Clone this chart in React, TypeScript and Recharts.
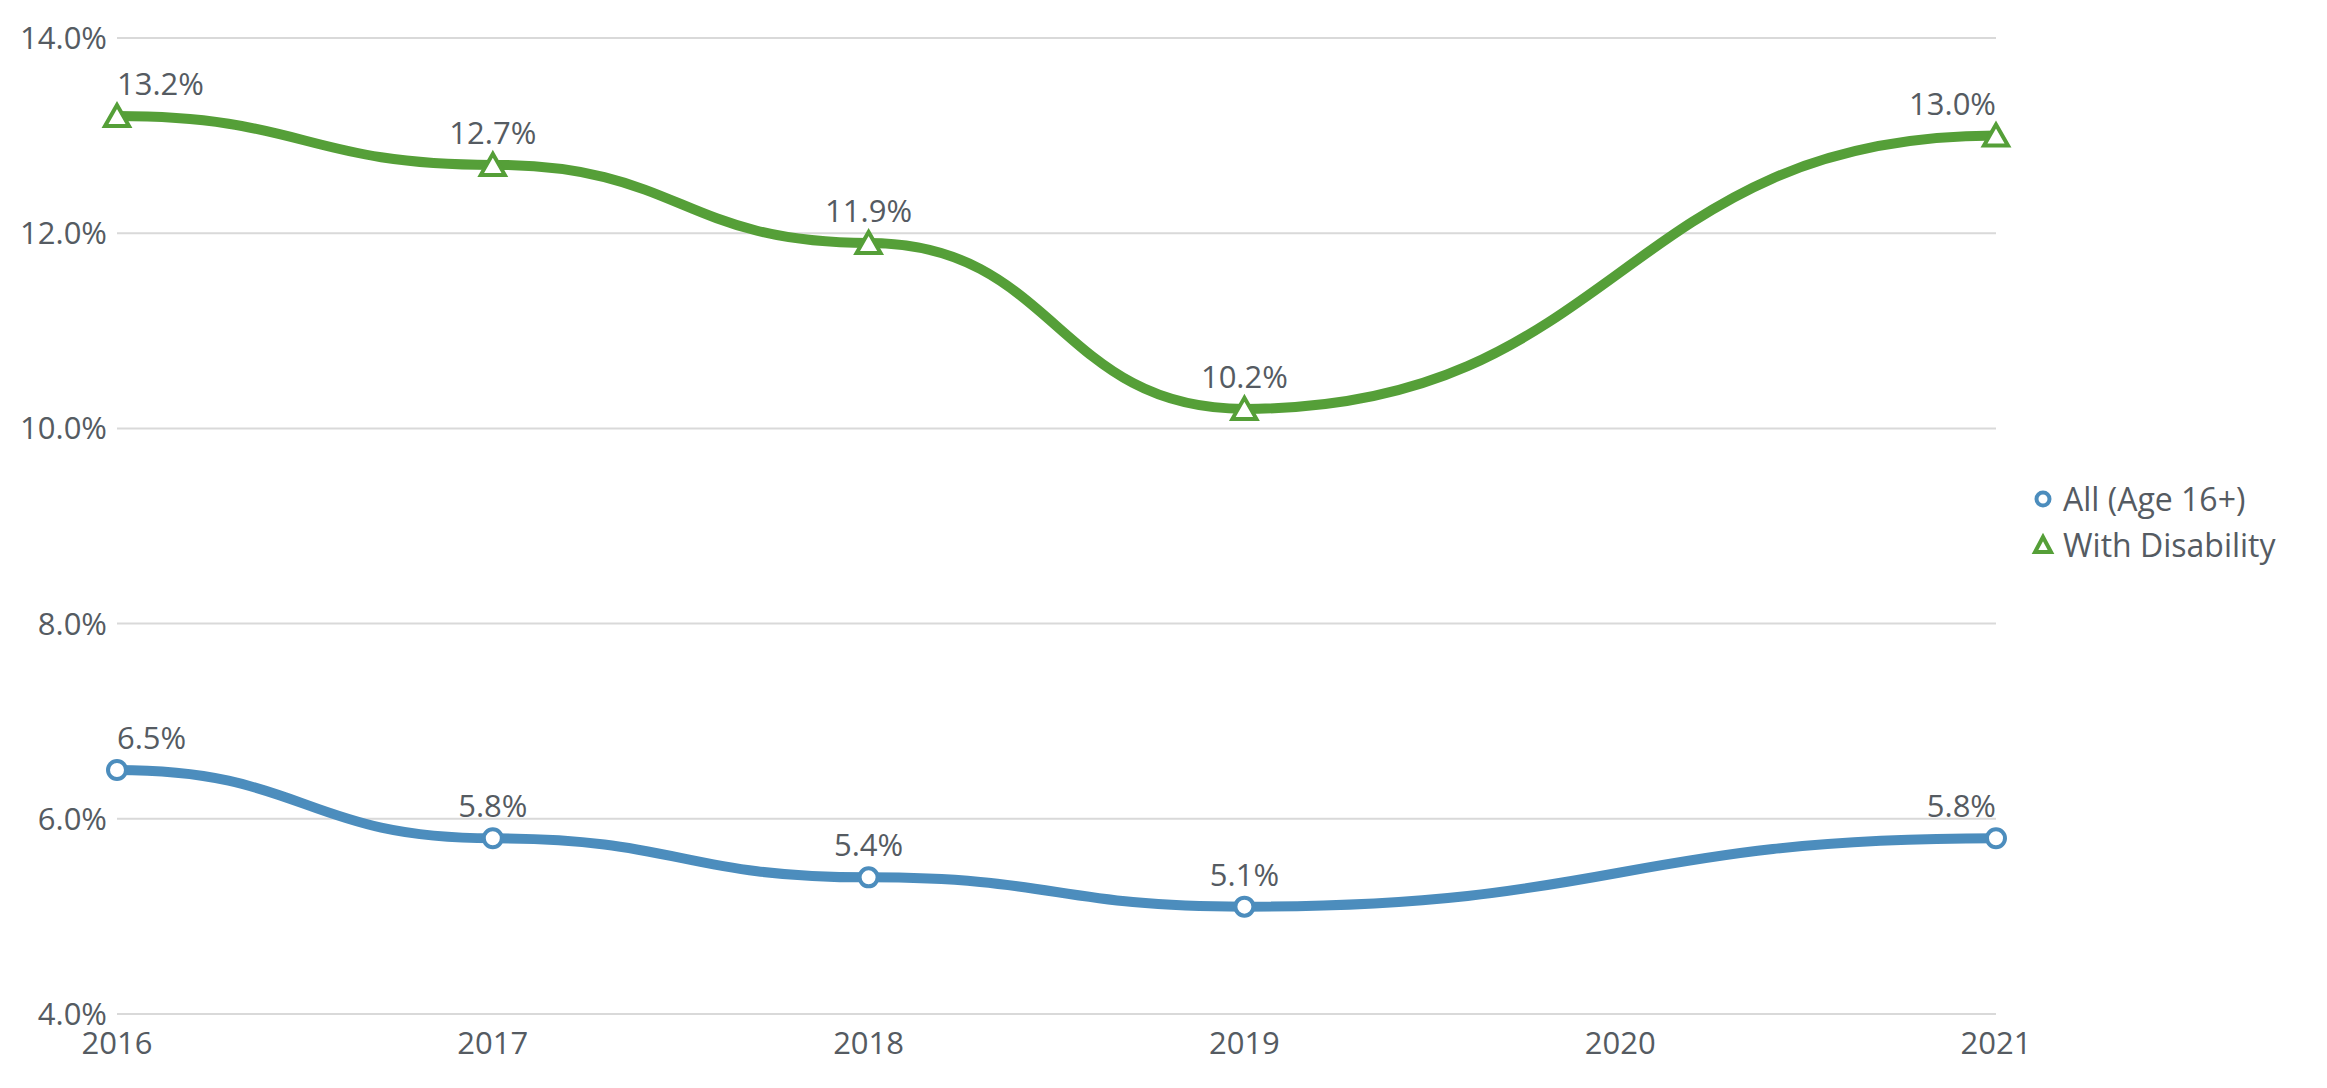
import React from "react";
import { LineChart, Line, XAxis, YAxis, CartesianGrid } from "recharts";

const years = ["2016", "2017", "2018", "2019", "2020", "2021"];
const allAge16 = [6.5, 5.8, 5.4, 5.1, null, 5.8];
const withDisability = [13.2, 12.7, 11.9, 10.2, null, 13.0];
const yTicks = [4, 6, 8, 10, 12, 14];

const seriesNames = ["All (Age 16+)", "With Disability"];
const BLUE = "#4c8dbd";
const GREEN = "#559f38";
const TEXT = "#555b62";
const FONT = "'Open Sans', sans-serif";

const data = years.map((year, i) => ({
  year,
  all: allAge16[i],
  disability: withDisability[i],
}));

const renderLabel = (props: any) => {
  const { x, y, value, index } = props;
  if (value == null || x == null || y == null) return null;
  const anchor = index === 0 ? "start" : index === years.length - 1 ? "end" : "middle";
  return (
    <text x={x} y={y - 21} textAnchor={anchor} fill={TEXT} fontSize={31} fontFamily={FONT}>
      {`${Number(value).toFixed(1)}%`}
    </text>
  );
};

const circleDot = (props: any) => {
  const { cx, cy, index } = props;
  if (cx == null || cy == null || props.value == null) return <g key={`c${index}`} />;
  return <circle key={`c${index}`} cx={cx} cy={cy} r={9} fill="#fff" stroke={BLUE} strokeWidth={4} />;
};

const triangleDot = (props: any) => {
  const { cx, cy, index } = props;
  if (cx == null || cy == null || props.value == null) return <g key={`t${index}`} />;
  const pts = `${cx},${cy - 11} ${cx - 12},${cy + 10} ${cx + 12},${cy + 10}`;
  return <polygon key={`t${index}`} points={pts} fill="#fff" stroke={GREEN} strokeWidth={4} strokeLinejoin="miter" />;
};

export default function App() {
  return (
    <div style={{ position: "relative", width: 2311, height: 1072, fontFamily: FONT }}>
      <LineChart width={2311} height={1072} data={data} margin={{ top: 30, right: 323, bottom: 26, left: 0 }}>
        <CartesianGrid vertical={false} stroke="#d9d9d9" strokeWidth={2} />
        <XAxis
          dataKey="year"
          axisLine={false}
          tickLine={false}
          tickSize={0}
          tickMargin={18}
          height={40}
          interval={0}
          tick={{ fill: TEXT, fontSize: 31, fontFamily: FONT }}
        />
        <YAxis
          domain={[4, 14]}
          ticks={yTicks}
          width={109}
          axisLine={false}
          tickLine={false}
          tickSize={0}
          tickMargin={10}
          tickFormatter={(v) => `${Number(v).toFixed(1)}%`}
          tick={{ fill: TEXT, fontSize: 31, fontFamily: FONT }}
        />
        <Line
          type="bumpX"
          dataKey="all"
          name={seriesNames[0]}
          stroke={BLUE}
          strokeWidth={10}
          connectNulls
          dot={circleDot}
          activeDot={false}
          label={renderLabel}
          isAnimationActive={false}
        />
        <Line
          type="bumpX"
          dataKey="disability"
          name={seriesNames[1]}
          stroke={GREEN}
          strokeWidth={10}
          connectNulls
          dot={triangleDot}
          activeDot={false}
          label={renderLabel}
          isAnimationActive={false}
        />
      </LineChart>
      <div style={{ position: "absolute", left: 2020, top: 468, color: TEXT, fontSize: 32, lineHeight: "46px" }}>
        <div style={{ display: "flex", alignItems: "center" }}>
          <svg width={30} height={30} style={{ marginRight: 5 }}>
            <circle cx={15} cy={15} r={6.5} fill="#fff" stroke={BLUE} strokeWidth={4} />
          </svg>
          <span>{seriesNames[0]}</span>
        </div>
        <div style={{ display: "flex", alignItems: "center" }}>
          <svg width={30} height={30} style={{ marginRight: 5 }}>
            <polygon points="15,7 7,22 23,22" fill="#fff" stroke={GREEN} strokeWidth={4} />
          </svg>
          <span>{seriesNames[1]}</span>
        </div>
      </div>
    </div>
  );
}
